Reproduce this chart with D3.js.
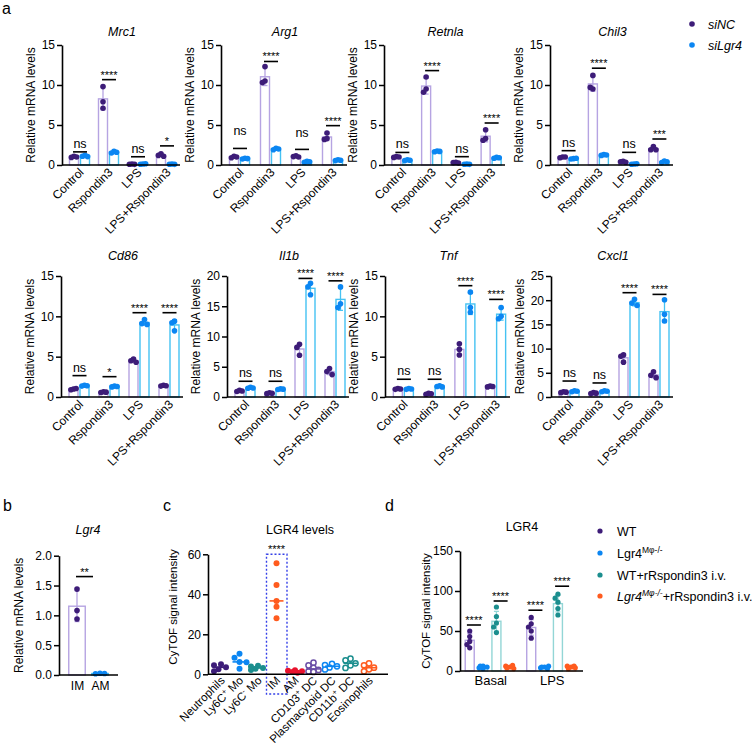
<!DOCTYPE html>
<html><head><meta charset="utf-8">
<script src="https://cdn.jsdelivr.net/npm/d3@7"></script>
<style>
body{margin:0;background:#fff}
svg text{font-family:"Liberation Sans",Arial,sans-serif;fill:#000}
</style>
</head><body>
<svg id="chart" width="755" height="744"></svg>
<script>
// ================= DATA =================
const treatments = ["Control","Rspondin3","LPS","LPS+Rspondin3"];
const genesTop = ["Mrc1","Arg1","Retnla","Chil3"];
const genesBottom = ["Cd86","Il1b","Tnf","Cxcl1"];
const yMaxTop = [15,15,15,15];
const yMaxBottom = [15,20,15,25];
const seriesA = ["siNC","siLgr4"];

// replicates per treatment (3 each)
const mrc1_siNC   = [[1.1,0.95,1.0],[9.8,7.9,7.1],[0.12,0.1,0.08],[1.4,1.2,1.1]];
const mrc1_siLgr4 = [[1.2,1.1,1.05],[1.7,1.5,1.6],[0.12,0.1,0.15],[0.12,0.1,0.08]];
const mrc1_sig    = [["ns",1.64],["****",10.67],["ns",1.03],["*",2.39]];

const arg1_siNC   = [[1.1,0.9,1.0],[12.3,10.5,10.3],[1.15,1.05,1.0],[4.0,3.3,3.2]];
const arg1_siLgr4 = [[0.85,0.75,0.8],[2.1,1.9,2.0],[0.45,0.35,0.4],[0.65,0.55,0.6]];
const arg1_sig    = [["ns",2.07,1.24],["****",12.94],["ns",1.95,1.0],["****",4.92]];

const retnla_siNC   = [[1.05,0.95,1.0],[11.0,9.5,9.1],[0.35,0.3,0.25],[4.4,3.3,3.1]];
const retnla_siLgr4 = [[0.65,0.55,0.6],[1.75,1.65,1.7],[0.12,0.1,0.08],[0.95,0.85,0.9]];
const retnla_sig    = [["ns",1.57],["****",11.8],["ns",1.04],["****",5.25]];

const chil3_siNC   = [[1.0,0.9,1.0],[11.2,9.5,9.7],[0.45,0.4,0.35],[2.3,1.9,1.9]];
const chil3_siLgr4 = [[0.8,0.75,0.85],[1.3,1.2,1.25],[0.12,0.1,0.15],[0.5,0.3,0.4]];
const chil3_sig    = [["ns",1.79],["****",12.1],["ns",1.58],["***",3.25]];

const cd86_siNC   = [[1.0,0.9,1.05],[0.65,0.55,0.6],[4.7,4.5,4.3],[1.45,1.35,1.4]];
const cd86_siLgr4 = [[1.45,1.35,1.4],[1.35,1.25,1.3],[9.6,9.1,9.0],[9.4,9.2,8.2]];
const cd86_sig    = [["ns",2.65],["*",2.52],["****",10.45],["****",10.45]];

const il1b_siNC   = [[1.1,0.9,1.0],[0.7,0.55,0.6],[8.7,8.2,6.9],[4.7,4.2,3.7]];
const il1b_siLgr4 = [[1.6,1.45,1.5],[1.35,1.25,1.3],[18.8,18.2,16.9],[18.2,15.4,14.8]];
const il1b_sig    = [["ns",2.6],["ns",2.6],["****",19.6],["****",19.2]];

const tnf_siNC   = [[1.05,0.95,1.0],[0.45,0.35,0.4],[6.6,5.9,5.2],[1.35,1.25,1.3]];
const tnf_siLgr4 = [[1.05,0.95,1.0],[1.4,1.3,1.25],[13.0,11.1,10.5],[11.1,10.0,9.7]];
const tnf_sig    = [["ns",2.2],["ns",2.2],["****",13.8],["****",12.1]];

const cxcl1_siNC   = [[1.1,0.9,1.0],[0.9,0.7,0.8],[8.7,8.4,7.2],[5.2,4.5,4.0]];
const cxcl1_siLgr4 = [[1.3,1.1,1.2],[1.3,1.1,1.2],[20.2,19.4,18.9],[20.1,17.1,15.7]];
const cxcl1_sig    = [["ns",3.3],["ns",2.9],["****",21.55],["****",21.2]];

// panel b
const bGroups = ["IM","AM"];
const lgr4_IM = [1.44,1.08,0.94];
const lgr4_AM = [0.03,0.02,0.025];
const bSig = ["**",1.65];
const bTicks = [0,0.5,1.0,1.5,2.0];

// panel c
const cellTypes = ["Neutrophils","Ly6C^{+} Mo","Ly6C^{-} Mo","IM","AM","CD103^{+} DC","Plasmacytoid DC","CD11b^{+} DC","Eosinophils"];
const cytofValues = [
  [5,4.5,3.5,2.5,1.5],
  [10.3,8.3,6.2,6.0,2.8],
  [4.3,3.9,3.2,2.8,2.2],
  [55.5,44.7,36.7,33.8,28],
  [2,1.8,1.5,1.2,0.8],
  [5.8,4.5,3.2,2.2,1.5,1.2],
  [5.2,4.6,4.0,3.4,2.4],
  [7.8,7.0,5.5,4.5,3.2],
  [5.5,4.5,3.3,2.5,1.5]
];
const cTicks = [0,20,40,60];

// panel d
const dGroups = ["Basal","LPS"];
const dSeries = ["WT","Lgr4KO","WT+rRspondin3","Lgr4KO+rRspondin3"];
const basalValues = [[50,43,37,33,29],[6,4,5,3,6],[80,68,60,55,48],[5,6,3,4,7]];
const lpsValues   = [[67,59,55,50,41],[5,4,6,3,5],[96,91,86,78,70],[5,6,4,3,6]];
const dSigLines   = [[57.5,87.5],[76,106]];
const dTicks = [0,50,100,150];

// ================= STYLE =================
const cNCdot="#3d1c78", cNCbar="#b6a4e2", cLgdot="#0b86f2", cLgbar="#45c2f2";
const cTeal="#1b8e8e", cTealBar="#93d6d6", cOrange="#ff5b1e", cOrangeBar="#ffb393", cRed="#e8122d", cLav="#6a4ea6";
const cellColors = [cNCdot,cLgdot,cTeal,cOrange,cRed,cLav,cLgdot,cTeal,cOrange];
const cellHollow = [false,false,false,false,false,true,true,true,true];
const dBarColors = [cNCbar,"#8fd3f5",cTealBar,cOrangeBar];
const dDotColors = [cNCdot,cLgdot,cTeal,cOrange];

const geneTable = {};
[["Mrc1",mrc1_siNC,mrc1_siLgr4,mrc1_sig],["Arg1",arg1_siNC,arg1_siLgr4,arg1_sig],
 ["Retnla",retnla_siNC,retnla_siLgr4,retnla_sig],["Chil3",chil3_siNC,chil3_siLgr4,chil3_sig],
 ["Cd86",cd86_siNC,cd86_siLgr4,cd86_sig],["Il1b",il1b_siNC,il1b_siLgr4,il1b_sig],
 ["Tnf",tnf_siNC,tnf_siLgr4,tnf_sig],["Cxcl1",cxcl1_siNC,cxcl1_siLgr4,cxcl1_sig]]
 .forEach(([g,a,b,s])=>geneTable[g]={siNC:a,siLgr4:b,sig:s});

const layoutTop = {y0:165, y1:45, titleY:36, axes:[[62,180],[221,347],[384,505],[550,673]]};
const layoutBottom = {y0:397, y1:276, titleY:260, axes:[[61,183],[227,349],[385,510],[551,673]]};

const svg = d3.select("#chart");

// ================= HELPERS =================
function styleAxis(sel, fs){
  sel.selectAll(".domain").attr("stroke","#000").attr("stroke-width",1.6);
  sel.selectAll(".tick line").attr("stroke","#000").attr("stroke-width",1.5);
  sel.selectAll(".tick text").attr("font-size",fs||12).attr("fill","#000")
     .style("font-family","'Liberation Sans',Arial,sans-serif");
}
function placeDots(vals, y, cands, minD){
  const placed=[];
  return vals.map(v=>{
    const py=y(v);
    let best=cands[0], bestScore=-Infinity;
    for(const c of cands){
      let md=Infinity;
      for(const p of placed) md=Math.min(md, Math.hypot(p[0]-c,p[1]-py));
      if(md>=minD){best=c;break;}
      if(md>bestScore){bestScore=md;best=c;}
    }
    placed.push([best,py]);
    return [best,py];
  });
}
function richText(textSel, str, supSize){
  textSel.text(null);
  const parts = str.split(/\^\{([^}]*)\}/);
  let shifted=false;
  parts.forEach((p,i)=>{
    if(p==="") return;
    const t = textSel.append("tspan").text(p);
    if(i%2===1){ t.attr("dy",-4).attr("font-size",supSize||8); shifted=true; }
    else if(shifted){ t.attr("dy",4); shifted=false; }
  });
}
function drawBarStat(g, cx, vals, y, y0, barW, barColor, dotColor, r, cands){
  const m=d3.mean(vals), sd=d3.deviation(vals)||0;
  g.append("rect").attr("x",cx-barW/2).attr("width",barW).attr("y",y(m)).attr("height",Math.max(0,y0-y(m)))
    .attr("fill","#fff").attr("stroke",barColor).attr("stroke-width",1.4);
  const top=y(m+sd), bot=y(Math.max(0,m-sd));
  g.append("line").attr("x1",cx).attr("x2",cx).attr("y1",top).attr("y2",bot).attr("stroke",barColor).attr("stroke-width",1.3);
  [top,bot].forEach(yy=>g.append("line").attr("x1",cx-2.5).attr("x2",cx+2.5).attr("y1",yy).attr("y2",yy).attr("stroke",barColor).attr("stroke-width",1.3));
  placeDots(vals,y,cands,r*1.6).forEach(([dx,py])=>{
    g.append("circle").attr("cx",cx+dx).attr("cy",py).attr("r",r).attr("fill",dotColor);
  });
}
function sigMark(g, cx, ly, label, extraPx, halfW){
  g.append("line").attr("x1",cx-halfW).attr("x2",cx+halfW).attr("y1",ly).attr("y2",ly).attr("stroke","#000").attr("stroke-width",1.6);
  const star = label.includes("*");
  g.append("text").attr("x",cx).attr("y",ly-(star?1:4)-(extraPx||0)).attr("text-anchor","middle")
    .attr("font-size",star?11:12.5).attr("fill",star?"#222":"#000").text(label);
}

// ================= PANEL a =================
function panelA(gene, ymax, x0, x1, lay){
  const d=geneTable[gene];
  const g=svg.append("g");
  const y=d3.scaleLinear().domain([0,ymax]).range([lay.y0,lay.y1]);
  const xb=d3.scaleBand().domain(treatments).range([x0+3,x1+1]);
  const series=[{vals:d.siNC,bar:cNCbar,dot:cNCdot,off:-5.5},{vals:d.siLgr4,bar:cLgbar,dot:cLgdot,off:5.5}];
  series.forEach(s=>treatments.forEach((t,i)=>{
    const cx=xb(t)+xb.bandwidth()/2+s.off;
    drawBarStat(g,cx,s.vals[i],y,lay.y0,9,s.bar,s.dot,2.8,[0,-2.6,2.6]);
  }));
  // axes
  const ya=g.append("g").attr("transform",`translate(${x0},0)`)
    .call(d3.axisLeft(y).tickValues(d3.range(0,ymax+0.01,5)).tickSize(5).tickSizeOuter(0).tickPadding(2));
  styleAxis(ya,12);
  g.append("line").attr("x1",x0).attr("x2",x1).attr("y1",lay.y0).attr("y2",lay.y0).attr("stroke","#000").attr("stroke-width",1.6);
  const xa=g.append("g").attr("transform",`translate(0,${lay.y0})`).call(d3.axisBottom(xb).tickSize(0));
  xa.select(".domain").remove();
  xa.selectAll(".tick text").attr("y",0).attr("dy",0).attr("transform","translate(5,8) rotate(-45)")
    .style("text-anchor","end").attr("font-size",12).attr("fill","#000").style("font-family","'Liberation Sans',Arial,sans-serif");
  // significance
  d.sig.forEach(([lab,v,extra],i)=>{
    const cx=xb(treatments[i])+xb.bandwidth()/2+0.5;
    sigMark(g,cx,y(v),lab,extra?(y(0)-y(extra)):0,7);
  });
  // title & y label
  g.append("text").attr("x",(x0+x1)/2+1).attr("y",lay.titleY).attr("text-anchor","middle")
    .attr("font-size",12.5).attr("font-style","italic").text(gene);
  g.append("text").attr("transform",`translate(${x0-27},${(lay.y0+lay.y1)/2}) rotate(-90)`)
    .attr("text-anchor","middle").attr("font-size",12).text("Relative mRNA levels");
}
genesTop.forEach((gn,i)=>panelA(gn,yMaxTop[i],layoutTop.axes[i][0],layoutTop.axes[i][1],layoutTop));
genesBottom.forEach((gn,i)=>panelA(gn,yMaxBottom[i],layoutBottom.axes[i][0],layoutBottom.axes[i][1],layoutBottom));

// legend a
[[seriesA[0],cNCdot,24],[seriesA[1],cLgdot,45]].forEach(([lab,c,yy])=>{
  svg.append("circle").attr("cx",692).attr("cy",yy).attr("r",2.8).attr("fill",c);
  svg.append("text").attr("x",708).attr("y",yy+4.5).attr("font-size",12.5).attr("font-style","italic").text(lab);
});

// panel letters
[["a",2,14],["b",3,511],["c",163,511],["d",385,511]].forEach(([l,x,y])=>
  svg.append("text").attr("x",x).attr("y",y).attr("font-size",16).text(l));

// ================= PANEL b =================
(function(){
  const g=svg.append("g");
  const x0=59,x1=118,y0=675,y1=555.7;
  const y=d3.scaleLinear().domain([0,2]).range([y0,y1]);
  const xp=d3.scalePoint().domain(bGroups).range([77,100]);
  drawBarStat(g,xp("IM"),lgr4_IM,y,y0,16.5,cNCbar,cNCdot,2.8,[0,-3,3]);
  drawBarStat(g,xp("AM"),lgr4_AM,y,y0,16.5,cLgbar,cLgdot,2.8,[0,-4.5,4.5]);
  const ya=g.append("g").attr("transform",`translate(${x0},0)`)
    .call(d3.axisLeft(y).tickValues(bTicks).tickFormat(d3.format(".1f")).tickSize(5).tickSizeOuter(0).tickPadding(2));
  styleAxis(ya,12);
  g.append("line").attr("x1",x0).attr("x2",x1).attr("y1",y0).attr("y2",y0).attr("stroke","#000").attr("stroke-width",1.6);
  const xa=g.append("g").attr("transform",`translate(0,${y0})`).call(d3.axisBottom(xp).tickSize(0).tickPadding(6));
  xa.select(".domain").remove();
  xa.selectAll(".tick text").attr("font-size",12).attr("fill","#000").style("font-family","'Liberation Sans',Arial,sans-serif");
  const ly=y(bSig[1]);
  g.append("line").attr("x1",xp("IM")-1).attr("x2",xp("IM")+16).attr("y1",ly).attr("y2",ly).attr("stroke","#000").attr("stroke-width",1.6);
  g.append("text").attr("x",xp("IM")+7.5).attr("y",ly-1).attr("text-anchor","middle").attr("font-size",11).attr("fill","#222").text(bSig[0]);
  g.append("text").attr("x",88).attr("y",534).attr("text-anchor","middle").attr("font-size",12.5).attr("font-style","italic").text("Lgr4");
  g.append("text").attr("transform",`translate(23,${(y0+y1)/2}) rotate(-90)`).attr("text-anchor","middle").attr("font-size",12).text("Relative mRNA levels");
})();

// ================= PANEL c =================
(function(){
  const g=svg.append("g");
  const x0=208,x1=388,y0=674.3,y1=554.3;
  const y=d3.scaleLinear().domain([0,60]).range([y0,y1]);
  const xp=d3.scalePoint().domain(cellTypes).range([221,369]);
  // dashed box around IM
  const ix=xp("IM");
  g.append("rect").attr("x",ix-10).attr("y",y(60)).attr("width",20.5).attr("height",694-y(60))
    .attr("fill","none").attr("stroke","#3540e8").attr("stroke-width",1.4).attr("stroke-dasharray","2,2");
  g.append("text").attr("x",ix).attr("y",y(60)-1.5).attr("text-anchor","middle").attr("font-size",11).attr("fill","#222").text("****");
  cellTypes.forEach((ct,i)=>{
    const vals=cytofValues[i], cx=xp(ct), col=cellColors[i];
    const cands = i===3 ? [0,-4,4] : [0,-5,5,-2.5,2.5,-7,7];
    placeDots(vals,y,cands,5.2).forEach(([dx,py])=>{
      g.append("circle").attr("cx",cx+dx).attr("cy",py).attr("r",cellHollow[i]?2.6:3)
        .attr("fill",cellHollow[i]?"#fff":col).attr("stroke",col).attr("stroke-width",cellHollow[i]?1.5:0);
    });
    const med=d3.median(vals);
    g.append("line").attr("x1",cx-7).attr("x2",cx+7).attr("y1",y(med)).attr("y2",y(med)).attr("stroke",col).attr("stroke-width",1.6);
  });
  const ya=g.append("g").attr("transform",`translate(${x0},0)`)
    .call(d3.axisLeft(y).tickValues(cTicks).tickSize(5).tickSizeOuter(0).tickPadding(2));
  styleAxis(ya,12);
  g.append("line").attr("x1",x0).attr("x2",x1).attr("y1",y0).attr("y2",y0).attr("stroke","#000").attr("stroke-width",1.6);
  const xa=g.append("g").attr("transform",`translate(0,${y0})`).call(d3.axisBottom(xp).tickSize(0));
  xa.select(".domain").remove();
  xa.selectAll(".tick text").each(function(d){
    const t=d3.select(this);
    t.attr("y",0).attr("dy",0).attr("transform","translate(4,7) rotate(-45)").style("text-anchor","end")
     .attr("font-size",11.5).attr("fill","#000").style("font-family","'Liberation Sans',Arial,sans-serif");
    richText(t,d,8);
  });
  g.append("text").attr("x",300).attr("y",534).attr("text-anchor","middle").attr("font-size",12.5).text("LGR4 levels");
  g.append("text").attr("transform",`translate(177,607) rotate(-90)`).attr("text-anchor","middle").attr("font-size",11.5).text("CyTOF signal intensity");
})();

// ================= PANEL d =================
(function(){
  const g=svg.append("g");
  const x0=460,x1=583,y0=671,y1=551;
  const y=d3.scaleLinear().domain([0,150]).range([y0,y1]);
  const xb=d3.scaleBand().domain(dGroups).range([x0,x1]);
  const xs=d3.scaleBand().domain(dSeries).range([-26.7,26.7]);
  const groupVals=[basalValues,lpsValues];
  dGroups.forEach((grp,gi)=>{
    const gc=xb(grp)+xb.bandwidth()/2-1;
    dSeries.forEach((s,si)=>{
      const cx=gc+xs(s)+xs.bandwidth()/2;
      drawBarStat(g,cx,groupVals[gi][si],y,y0,9,dBarColors[si],dDotColors[si],2.6,[0,-2.8,2.8,-4,4]);
    });
    [[0,1],[2,3]].forEach(([a,b],k)=>{
      const ca=gc+xs(dSeries[a])+xs.bandwidth()/2, cb=gc+xs(dSeries[b])+xs.bandwidth()/2;
      sigMark(g,(ca+cb)/2-2.5,y(dSigLines[gi][k]),"****",0,7);
    });
  });
  const ya=g.append("g").attr("transform",`translate(${x0},0)`)
    .call(d3.axisLeft(y).tickValues(dTicks).tickSize(5).tickSizeOuter(0).tickPadding(2));
  styleAxis(ya,12);
  g.append("line").attr("x1",x0).attr("x2",x1).attr("y1",y0).attr("y2",y0).attr("stroke","#000").attr("stroke-width",1.6);
  const xa=g.append("g").attr("transform",`translate(0,${y0})`).call(d3.axisBottom(xb).tickSize(0).tickPadding(5));
  xa.select(".domain").remove();
  xa.selectAll(".tick text").attr("font-size",13).attr("fill","#000").style("font-family","'Liberation Sans',Arial,sans-serif");
  g.append("text").attr("x",522).attr("y",531).attr("text-anchor","middle").attr("font-size",12.5).text("LGR4");
  g.append("text").attr("transform",`translate(430,611) rotate(-90)`).attr("text-anchor","middle").attr("font-size",11.5).text("CyTOF signal intensity");
  // legend
  const legSegs=[
    [["WT",""]],
    [["Lgr4",""],["Mφ-/-","s"]],
    [["WT+rRspondin3 i.v.",""]],
    [["Lgr4","i"],["Mφ-/-","si"],["+rRspondin3 i.v.",""]]
  ];
  const ly=[531,553,575,596];
  legSegs.forEach((segs,i)=>{
    svg.append("circle").attr("cx",600).attr("cy",ly[i]).attr("r",2.6).attr("fill",dDotColors[i]);
    const t=svg.append("text").attr("x",617).attr("y",ly[i]+4.5).attr("font-size",12.5);
    let sh=false;
    segs.forEach(([txt,f])=>{
      const ts=t.append("tspan").text(txt);
      if(f.includes("i")) ts.attr("font-style","italic");
      if(f.includes("s")){ts.attr("dy",-5).attr("font-size",8.5);sh=true;}
      else if(sh){ts.attr("dy",5);sh=false;}
    });
  });
})();
</script>
</body></html>
